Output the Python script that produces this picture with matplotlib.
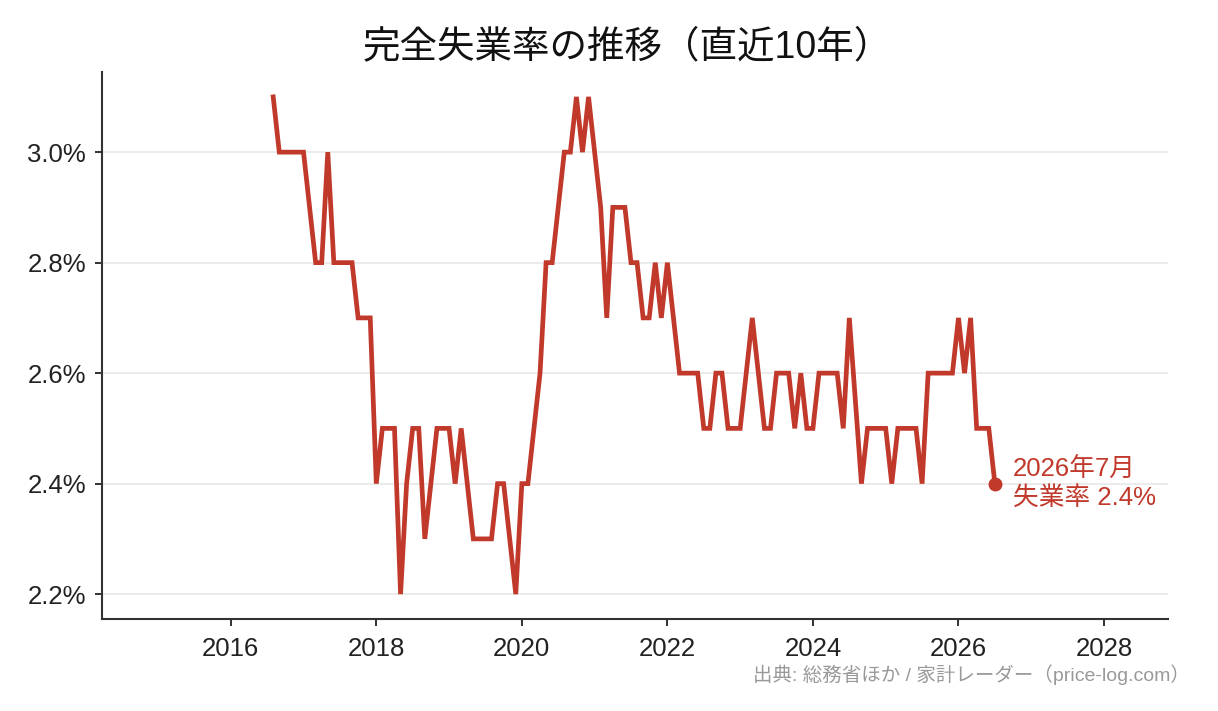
import matplotlib.pyplot as plt
import numpy as np

plt.rcParams['font.family'] = ['Liberation Sans', 'Noto Sans CJK JP', 'DejaVu Sans']

# 月次データ: 2016年8月 〜 2026年7月
start_year = 2016
start_month = 8
rate = [
    3.1, 3.0, 3.0, 3.0, 3.0, 3.0, 2.9, 2.8, 2.8, 3.0,   # 2016-08 ..
    2.8, 2.8, 2.8, 2.8, 2.7, 2.7, 2.7, 2.4, 2.5, 2.5,
    2.5, 2.2, 2.4, 2.5, 2.5, 2.3, 2.4, 2.5, 2.5, 2.5,
    2.4, 2.5, 2.4, 2.3, 2.3, 2.3, 2.3, 2.4, 2.4, 2.3,
    2.2, 2.4, 2.4, 2.5, 2.6, 2.8, 2.8, 2.9, 3.0, 3.0,
    3.1, 3.0, 3.1, 3.0, 2.9, 2.7, 2.9, 2.9, 2.9, 2.8,
    2.8, 2.7, 2.7, 2.8, 2.7, 2.8, 2.7, 2.6, 2.6, 2.6,
    2.6, 2.5, 2.5, 2.6, 2.6, 2.5, 2.5, 2.5, 2.6, 2.7,
    2.6, 2.5, 2.5, 2.6, 2.6, 2.6, 2.5, 2.6, 2.5, 2.5,
    2.6, 2.6, 2.6, 2.6, 2.5, 2.7, 2.55, 2.4, 2.5, 2.5,
    2.5, 2.5, 2.4, 2.5, 2.5, 2.5, 2.5, 2.4, 2.6, 2.6,
    2.6, 2.6, 2.6, 2.7, 2.6, 2.7, 2.5, 2.5, 2.5, 2.4,
]
year_ticks = [2016, 2018, 2020, 2022, 2024, 2026, 2028]
pct_ticks = [2.2, 2.4, 2.6, 2.8, 3.0]

red = '#c0392b'
x = start_year + (start_month - 1) / 12 + np.arange(len(rate)) / 12

fig = plt.figure(figsize=(12.18, 7.11), dpi=100)
ax = fig.add_axes([0.0837, 0.1294, 0.8753, 0.7693])

ax.plot(x, rate, color=red, lw=3.4, solid_joinstyle='miter', zorder=3)
ax.plot(x[-1], rate[-1], 'o', color=red, ms=9, zorder=4)

ax.annotate('2026年7月\n失業率 2.4%', (x[-1], rate[-1]), xytext=(13, 0),
            textcoords='offset points', ha='left', va='center',
            color=red, fontsize=18.5, linespacing=1.25)

ax.set_xlim(2014.23, 2028.88)
ax.set_ylim(2.155, 3.145)
ax.set_xticks(year_ticks)
ax.set_xticklabels([str(y) for y in year_ticks])
ax.set_yticks(pct_ticks)
ax.set_yticklabels([f'{v:.1f}%' for v in pct_ticks])

ax.grid(axis='y', color='#e8e8e8', lw=1.2)
ax.set_axisbelow(True)
for s in ['top', 'right']:
    ax.spines[s].set_visible(False)
for s in ['left', 'bottom']:
    ax.spines[s].set_color('#333333')
    ax.spines[s].set_linewidth(1.5)
ax.tick_params(axis='both', labelsize=18.5, colors='#222222', length=5, width=1.3, pad=6.5)
ax.tick_params(axis='x', pad=8)

fig.text(627 / 1218, 1 - 47 / 711, '完全失業率の推移（直近10年）', ha='center', va='center',
         fontsize=27, color='#111111')
fig.text(1190 / 1218, 1 - 675 / 711, '出典: 総務省ほか / 家計レーダー（price-log.com）',
         ha='right', va='center', fontsize=14, color='#999999')

fig.savefig('out.png', dpi=100)
